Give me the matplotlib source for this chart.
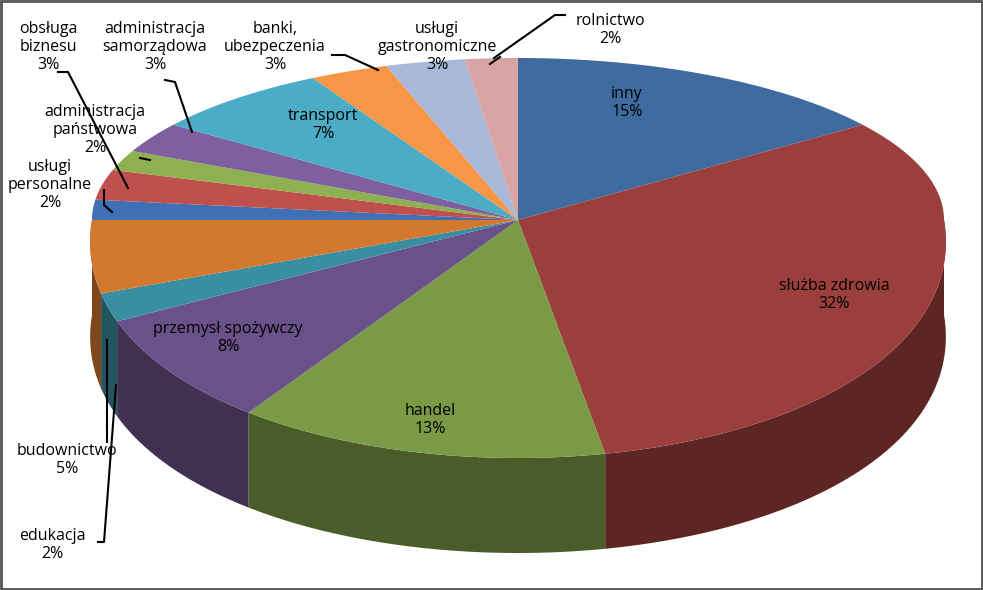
import numpy as np
import matplotlib.pyplot as plt
from matplotlib.colors import to_rgb
from matplotlib.patches import Polygon, Rectangle

labels = ["inny", "służba zdrowia", "handel", "przemysł spożywczy", "edukacja",
          "budownictwo", "usługi\npersonalne", "obsługa\nbiznesu",
          "administracja\npaństwowa", "administracja\nsamorządowa", "transport",
          "banki,\nubezpeczenia", "usługi\ngastronomiczne", "rolnictwo"]
values = [15, 32, 13, 8, 2, 5, 2, 3, 2, 3, 7, 3, 3, 2]
colors = ["#3F6B9E", "#9B3F3D", "#7A9A45", "#6A5189", "#3A8EA2", "#D3782F",
          "#3F6FB5", "#C0504D", "#8FB050", "#7E60A0", "#4BACC6", "#F79646",
          "#A7B8D8", "#D9A5A4"]

# label text positions (pixels) and optional leader lines
label_pos = [(627, 103), (834, 295), (430, 420), (228, 338), (52, 545),
             (67, 460), (50, 185), (48, 47), (95, 130), (155, 47),
             (323, 125), (275, 47), (437, 47), (610, 30)]
leaders = {4: [(98, 542), (104, 542), (116, 385)],
           5: [(107, 442), (107, 340)],
           6: [(104, 190), (104, 205), (112, 212)],
           7: [(58, 72), (68, 72), (128, 188)],
           8: [(140, 158), (150, 160)],
           9: [(165, 80), (175, 82), (192, 132)],
           11: [(332, 55), (345, 55), (378, 70)],
           12: [(500, 57), (490, 64)],
           13: [(565, 15), (555, 15), (494, 58)]}

cx, cy, rx, ry_top, ry_bot, depth = 518, 220, 426, 162, 238, 95


def pt(theta):
    c = np.cos(theta)
    ry = np.where(c > 0, ry_top, ry_bot)
    r_x = rx + np.where(c < 0, -40 * c, 0)
    return cx + r_x * np.sin(theta), cy - ry * c


fig = plt.figure(figsize=(9.83, 5.9), dpi=100)
ax = fig.add_axes([0, 0, 1, 1])
ax.set_xlim(0, 983)
ax.set_ylim(590, 0)
ax.axis("off")

bounds = np.concatenate([[0], np.cumsum(values)]) / 100 * 2 * np.pi
# side walls (front half only)
for i, col in enumerate(colors):
    a0, a1 = max(bounds[i], np.pi / 2), min(bounds[i + 1], 3 * np.pi / 2)
    if a1 <= a0:
        continue
    t = np.linspace(a0, a1, 80)
    x, y = pt(t)
    xs = np.concatenate([x, x[::-1]])
    ys = np.concatenate([y, y[::-1] + depth])
    dark = tuple(v * 0.6 for v in to_rgb(col))
    ax.add_patch(Polygon(np.column_stack([xs, ys]), closed=True,
                         facecolor=dark, edgecolor="none", zorder=1))
# top faces
for i, col in enumerate(colors):
    t = np.linspace(bounds[i], bounds[i + 1], 120)
    x, y = pt(t)
    xs = np.concatenate([[cx], x])
    ys = np.concatenate([[cy], y])
    ax.add_patch(Polygon(np.column_stack([xs, ys]), closed=True,
                         facecolor=col, edgecolor="none", zorder=2))

for i, (lab, v) in enumerate(zip(labels, values)):
    x, y = label_pos[i]
    ax.text(x, y, f"{lab}\n{v}%", ha="center", va="center", fontsize=11.5,
            family="Open Sans", linespacing=1.15, zorder=5)
    if i in leaders:
        lx, ly = zip(*leaders[i])
        ax.plot(lx, ly, color="black", lw=1.5, zorder=4)

ax.add_patch(Rectangle((1, 1), 981, 588, fill=False, edgecolor="#555555",
                       lw=2, zorder=6))
fig.savefig("out.png", dpi=100)
